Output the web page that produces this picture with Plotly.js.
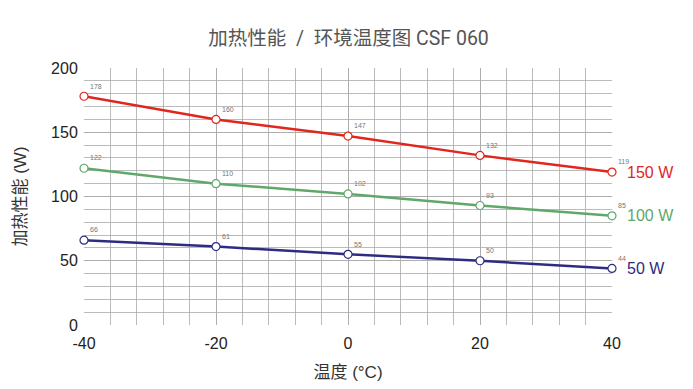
<!DOCTYPE html>
<html>
<head>
<meta charset="utf-8">
<script src="https://cdn.plot.ly/plotly-3.0.1.min.js"></script>
<style>html,body{margin:0;padding:0;background:#fff;}#chart{width:693px;height:389px;}</style>
</head>
<body>
<div id="chart"></div>
<script>
const temps = [-40, -20, 0, 20, 40];
const seriesNames = ['150 W', '100 W', '50 W'];
const power150 = [178, 160, 147, 132, 119];
const power100 = [122, 110, 102, 93, 85];
const power50 = [66, 61, 55, 50, 44];
const colors = ['#e0261e', '#5fa86a', '#2e2c80'];
const allSeries = [power150, power100, power50];

const font = '"Liberation Sans", "Noto Sans CJK SC", Arial, sans-serif';
const titleFont = 'Roboto, "Noto Sans CJK SC", sans-serif';

const traces = allSeries.map((vals, i) => ({
  x: temps,
  y: vals,
  type: 'scatter',
  mode: 'lines+markers+text',
  text: vals.map(String),
  textposition: 'top right',
  textfont: {size: 7, color: '#777', family: font},
  line: {color: colors[i], width: 2.5},
  marker: {symbol: 'circle', size: 8, color: '#fff', line: {color: colors[i], width: 1.2}},
  cliponaxis: false,
  hoverinfo: 'none',
  showlegend: false
}));

const annotations = allSeries.map((vals, i) => ({
  xref: 'paper', yref: 'y',
  x: 1, y: vals[vals.length - 1],
  xanchor: 'left', yanchor: 'middle',
  xshift: 13,
  text: seriesNames[i],
  showarrow: false,
  font: {size: 16, color: colors[i], family: font}
}));

const layout = {
  width: 693, height: 389,
  margin: {l: 84, r: 81, t: 68, b: 64},
  paper_bgcolor: '#fff', plot_bgcolor: '#fff',
  title: {text: '加热性能 \u00a0/\u00a0 环境温度图 CSF 060', x: 0.503, xanchor: 'center', yref: 'container', y: 0.902, yanchor: 'middle',
          font: {size: 19.5, color: '#555', family: titleFont}},
  xaxis: {
    range: [-40, 40], tickvals: temps, ticktext: temps.map(String),
    showgrid: true, gridcolor: '#aaa', gridwidth: 0.8,
    minor: {dtick: 4, showgrid: true, gridcolor: '#aaa', gridwidth: 0.8},
    zeroline: false, showline: false,
    tickfont: {size: 16, color: '#222', family: font},
    ticks: 'outside', ticklen: 4, tickcolor: 'rgba(0,0,0,0)',
    title: {text: '温度 (°C)', font: {size: 17, color: '#333', family: font}, standoff: 14}
  },
  yaxis: {
    range: [0, 200], tickvals: [0, 50, 100, 150, 200],
    showgrid: true, gridcolor: '#aaa', gridwidth: 0.8,
    minor: {dtick: 10, showgrid: true, gridcolor: '#aaa', gridwidth: 0.8},
    zeroline: false, showline: false,
    tickfont: {size: 16, color: '#222', family: font},
    ticks: 'outside', ticklen: 2, tickcolor: 'rgba(0,0,0,0)',
    title: {text: '加热性能 (W)', font: {size: 17, color: '#333', family: font}, standoff: 20}
  },
  annotations: annotations
};

Plotly.newPlot('chart', traces, layout, {staticPlot: true, displayModeBar: false});
</script>
</body>
</html>
